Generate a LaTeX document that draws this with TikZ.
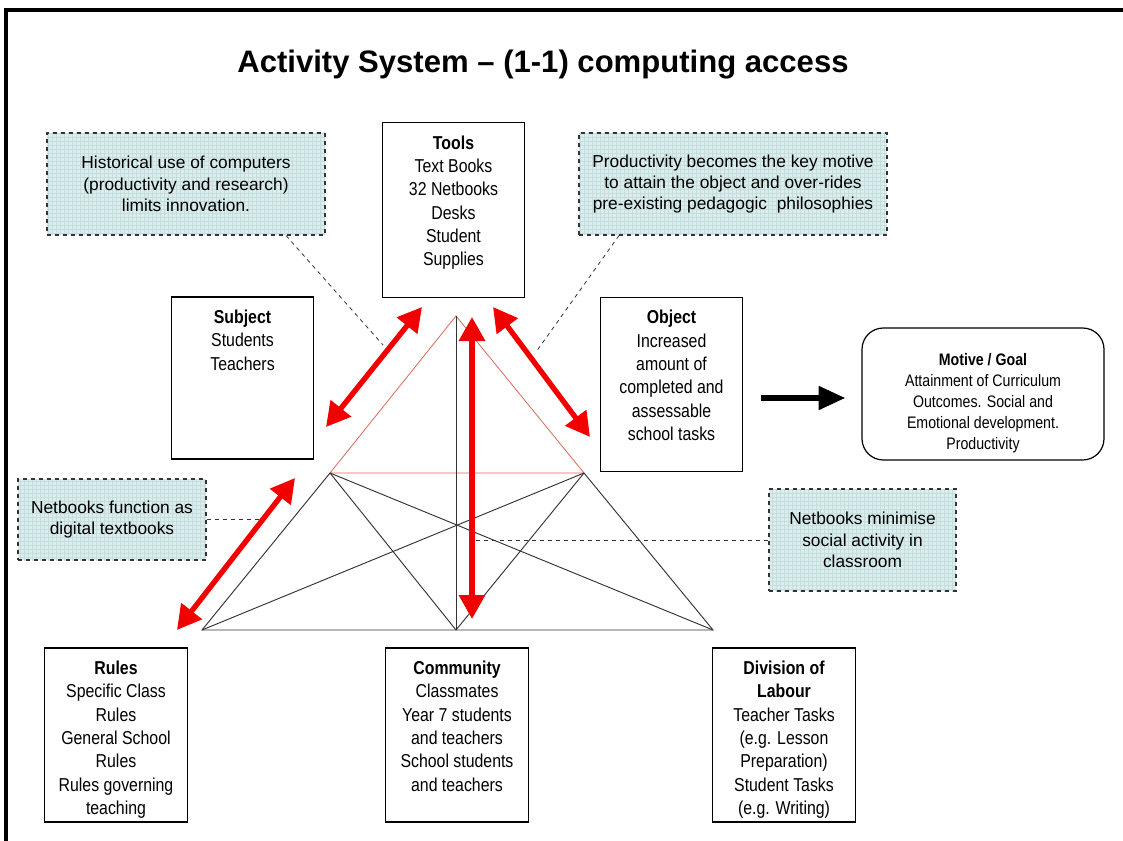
\documentclass[tikz,border=0pt]{standalone}
\usepackage{fontspec}
\setmainfont{Liberation Sans}
\newfontfamily\narrowfont{Liberation Sans}[FakeStretch=0.85]
\usetikzlibrary{arrows.meta,positioning,patterns}
\definecolor{asred}{HTML}{F20000}
\definecolor{asedge}{HTML}{D86A58}
\definecolor{asnote}{HTML}{DCEDEE}
\definecolor{asgrid}{HTML}{C6DDDE}
\definecolor{asdash}{HTML}{333333}

\begin{document}
\begin{tikzpicture}[
  x=0.75pt, y=-0.75pt,
  frame/.style={draw=black, line width=0.9pt, minimum width=107pt, inner sep=0pt},
  boxtxt/.style={font=\narrowfont\fontsize{14}{17.5}\selectfont, align=center, inner sep=0pt},
  note/.style={draw=asdash, dashed, line width=0.8pt, preaction={fill=asnote},
               pattern=grid, pattern color=asgrid,
               font=\fontsize{13}{16}\selectfont, align=center, inner sep=0pt},
  leader/.style={draw=asdash, dashed, line width=0.6pt},
  redarrow/.style={{Triangle[length=18pt,width=19pt]}-{Triangle[length=18pt,width=19pt]},
                   asred, line width=4pt},
  blackarrow/.style={-{Triangle[length=20pt,width=17pt]}, black, line width=4.2pt},
  edge/.style={asedge, line width=0.6pt},
  tri/.style={black!80, line width=0.7pt},
]
\useasboundingbox (0,0) rectangle (1123,841);
\fill[white] (0,0) rectangle (1123,841);

%% ---- outer frame and title ----
\draw[line width=3.6pt, line join=miter] (6,841) -- (6,10) -- (1123,10);
\node[anchor=base, font=\bfseries\fontsize{23.3}{28}\selectfont] (title) at (543,73)
  {Activity System -- (1-1) computing access};

%% ---- triangle corners ----
\coordinate (ap) at (456,316);
\coordinate (ml) at (330,473);
\coordinate (mr) at (584,473);
\coordinate (bl) at (202,630);
\coordinate (bm) at (456,630);
\coordinate (br) at (713,630);

%% ---- triangle ----
\draw[edge] (ml) -- (ap) -- (mr) -- cycle;
\draw[tri] (ap) -- (bm);
\draw[tri] (ml) -- (bl) -- (br) -- (mr);
\draw[tri] (ml) -- (bm) -- (mr);
\draw[tri] (bl) -- (mr);
\draw[tri] (ml) -- (br);

%% ---- component boxes ----
\node[frame, minimum height=131pt] (tools) at (453.5,210) {};
\node[frame, minimum height=121.5pt] (subj) at (242.5,378) {};
\node[frame, minimum height=131pt] (obj) at (671.5,384.5) {};
\node[frame, minimum height=130.5pt] (rules) at (116,735) {};
\node[frame, minimum height=130.5pt] (comm) at (457,735) {};
\node[frame, minimum height=130.5pt] (divl) at (784,735) {};
\node[frame, rounded corners=16pt, minimum width=181.5pt, minimum height=99pt] (mot) at (983,394) {};

\node[boxtxt, below=10pt of tools.north] (tools-t)
  {\textbf{Tools}\\Text Books\\32 Netbooks\\Desks\\Student\\Supplies};
\node[boxtxt, below=10pt of subj.north] (subj-t)
  {\textbf{Subject}\\Students\\Teachers};
\node[boxtxt, below=10pt of obj.north] (obj-t)
  {\textbf{Object}\\Increased\\amount of\\completed and\\assessable\\school tasks};
\node[boxtxt, below=10pt of rules.north] (rules-t)
  {\textbf{Rules}\\Specific Class\\Rules\\General School\\Rules\\Rules governing\\teaching};
\node[boxtxt, below=10pt of comm.north] (comm-t)
  {\textbf{Community}\\Classmates\\Year 7 students\\and teachers\\School students\\and teachers};
\node[boxtxt, below=10pt of divl.north] (divl-t)
  {\textbf{Division of}\\\textbf{Labour}\\Teacher Tasks\\(e.g. Lesson\\Preparation)\\Student Tasks\\(e.g. Writing)};
\node[boxtxt, font=\narrowfont\fontsize{12.5}{15.75}\selectfont, below=19pt of mot.north] (mot-t)
  {\textbf{Motive / Goal}\\Attainment of Curriculum\\Outcomes. Social and\\Emotional development.\\Productivity};

\coordinate (goal) at ([yshift=-3pt]mot.west);
\draw[blackarrow, shorten <=13.5pt, shorten >=12pt] (obj.east |- goal) -- (goal);

%% ---- notes ----
\node[note, minimum width=208.5pt, minimum height=76.5pt] (n1) at (186,184)
  {Historical use of computers\\(productivity and research)\\limits innovation.};
\node[note, minimum width=231pt, minimum height=76.5pt] (n2) at (733,184)
  {Productivity becomes the key motive\\to attain the object and over-rides\\pre-existing pedagogic\ \ philosophies};
\node[note, minimum width=141pt, minimum height=60.75pt] (n3) at (112,519.5)
  {Netbooks function as\\digital textbooks};
\node[note, minimum width=140.25pt, minimum height=76.5pt] (n4) at (862.5,540)
  {Netbooks minimise\\social activity in\\classroom};

\coordinate (d1) at (383,345);
\coordinate (d2) at (536,352);
\coordinate (d3) at (266,519.5);
\coordinate (d4) at (472,540);

\draw[leader] ([xshift=75pt]n1.south) -- (d1);
\draw[leader] ([xshift=-85.5pt]n2.south) -- (d2);
\draw[leader] (n3.east) -- (d3);
\draw[leader] (n4.west) -- (d4);

%% ---- tension arrows ----
\coordinate (s1) at (326,427);  \coordinate (t1) at (422,307);
\coordinate (s2) at (493,307);  \coordinate (t2) at (590,437);
\coordinate (s3) at (472,317);  \coordinate (t3) at (472,619);
\coordinate (s4) at (177,630);  \coordinate (t4) at (295,478);

\draw[redarrow] (s1) -- (t1);
\draw[redarrow] (s2) -- (t2);
\draw[redarrow] (s3) -- (t3);
\draw[redarrow] (s4) -- (t4);

\end{tikzpicture}
\end{document}
